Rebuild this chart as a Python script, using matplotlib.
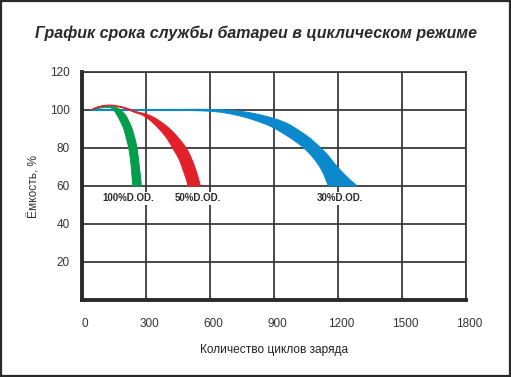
import numpy as np
import matplotlib
matplotlib.use("Agg")
import matplotlib.pyplot as plt
from matplotlib.patches import Rectangle
from matplotlib.transforms import ScaledTranslation

plt.rcParams['font.family'] = ['Liberation Sans', 'DejaVu Sans']

title = "График срока службы батареи в циклическом режиме"
xlabel = "Количество циклов заряда"
ylabel = "Ёмкость, %"
xticks = [0, 300, 600, 900, 1200, 1500, 1800]
yticks = [20, 40, 60, 80, 100, 120]

# band edges: (cycles, capacity %)
green_outer_x = [40, 80, 130, 170, 203, 222, 234, 248, 258, 266, 272, 276, 278]
green_outer_y = [100, 101.4, 102.0, 100.8, 97.4, 93.5, 90.3, 85, 80, 73, 67, 63, 60]
green_inner_x = [40, 100, 140, 164, 182, 195, 208, 219, 228, 233, 236, 238]
green_inner_y = [100, 101.2, 100.9, 97.4, 93.5, 90.3, 85, 80, 73, 67, 63, 60]

red_outer_x = [40, 80, 130, 200, 250, 312, 360, 409, 450, 488, 515, 535, 548, 555]
red_outer_y = [100, 101.8, 102.6, 101.3, 99.3, 97.4, 94.5, 90.3, 85.5, 80, 74, 68, 63, 60]
red_inner_x = [40, 80, 130, 200, 250, 281, 320, 359, 395, 425, 455, 475, 490, 497]
red_inner_y = [100, 101.6, 102.3, 100.8, 98.6, 97.4, 94.5, 90.3, 85.5, 80, 74, 68, 63, 60]

blue_outer_x = [40, 400, 600, 700, 800, 900, 960, 1020, 1070, 1110, 1150, 1190, 1240, 1290]
blue_outer_y = [100.2, 100.3, 100.3, 99.8, 98.3, 95.5, 93, 89, 85, 81, 76.5, 71, 65, 60]
blue_inner_x = [40, 400, 550, 650, 750, 850, 900, 960, 1000, 1045, 1090, 1125, 1155]
blue_inner_y = [99.7, 99.7, 99.6, 98.8, 96.6, 93, 90.5, 86.5, 83.5, 79.5, 74, 68, 60]

labels = ["100%D.OD.", "50%D.OD.", "30%D.OD."]
label_x = [218, 545, 1210]
label_y = [53.5, 53.5, 53.5]

colors = {"green": "#009E4A", "red": "#E2202A", "blue": "#0A8ACD"}

# scale factors so the curve smoothing works in roughly screen-proportional units
SX, SY = 384 / 1800, 228 / 120


def smooth(xs, ys, n=16, alpha=0.5):
    pts = np.column_stack([np.asarray(xs, float) * SX, np.asarray(ys, float) * SY])
    p = np.vstack([2 * pts[0] - pts[1], pts, 2 * pts[-1] - pts[-2]])
    out = []
    for i in range(1, len(p) - 2):
        p0, p1, p2, p3 = p[i - 1], p[i], p[i + 1], p[i + 2]
        t0 = 0.0
        t1 = t0 + max(np.linalg.norm(p1 - p0), 1e-6) ** alpha
        t2 = t1 + max(np.linalg.norm(p2 - p1), 1e-6) ** alpha
        t3 = t2 + max(np.linalg.norm(p3 - p2), 1e-6) ** alpha
        for t in np.linspace(t1, t2, n, endpoint=False):
            a1 = (t1 - t) / (t1 - t0) * p0 + (t - t0) / (t1 - t0) * p1
            a2 = (t2 - t) / (t2 - t1) * p1 + (t - t1) / (t2 - t1) * p2
            a3 = (t3 - t) / (t3 - t2) * p2 + (t - t2) / (t3 - t2) * p3
            b1 = (t2 - t) / (t2 - t0) * a1 + (t - t0) / (t2 - t0) * a2
            b2 = (t3 - t) / (t3 - t1) * a2 + (t - t1) / (t3 - t1) * a3
            out.append((t2 - t) / (t2 - t1) * b1 + (t - t1) / (t2 - t1) * b2)
    out.append(pts[-1])
    out = np.array(out)
    return out[:, 0] / SX, out[:, 1] / SY


fig = plt.figure(figsize=(5.11, 3.77), dpi=100)
fig.patches.append(Rectangle((0.001, 0.002), 0.997, 0.995, transform=fig.transFigure,
                             fill=False, edgecolor="#2a2a2a", linewidth=1.6))
ax = fig.add_axes([82 / 511, 1 - 300 / 377, (466 - 82) / 511, (300 - 72) / 377])

ax.set_xlim(0, 1800)
ax.set_ylim(0, 120)
ax.set_xticks(xticks)
ax.set_yticks(yticks)
ax.set_xticklabels([str(v) for v in xticks])
ax.set_yticklabels([str(v) for v in yticks])
ax.tick_params(length=0, labelsize=8.5, colors="#333333")
ax.tick_params(axis='y', pad=9)
ax.tick_params(axis='x', pad=13)
offset = ScaledTranslation(3 / 100, 0, fig.dpi_scale_trans)
for lab in ax.get_xticklabels():
    lab.set_transform(lab.get_transform() + offset)
ax.grid(True, color="#3a3a3a", linewidth=1.3)
ax.set_axisbelow(True)
for side in ["top", "right"]:
    ax.spines[side].set_linewidth(1.3)
    ax.spines[side].set_color("#3a3a3a")
for side in ["left", "bottom"]:
    ax.spines[side].set_linewidth(2.8)
    ax.spines[side].set_color("#2a2a2a")

bands = [
    ("blue", blue_outer_x, blue_outer_y, blue_inner_x, blue_inner_y),
    ("green", green_outer_x, green_outer_y, green_inner_x, green_inner_y),
    ("red", red_outer_x, red_outer_y, red_inner_x, red_inner_y),
]
for name, ox, oy, ix, iy in bands:
    sx1, sy1 = smooth(ox, oy)
    sx2, sy2 = smooth(ix, iy)
    px = np.concatenate([sx1, sx2[::-1]])
    py = np.concatenate([sy1, sy2[::-1]])
    ax.fill(px, py, color=colors[name], edgecolor=colors[name], linewidth=0.7, zorder=3)

for t, x, y in zip(labels, label_x, label_y):
    ax.text(x, y, t, ha="center", va="center", fontsize=7, fontweight="bold",
            color="#2a2a2a", zorder=4,
            bbox=dict(facecolor="white", edgecolor="none", pad=1.0))

ax.set_xlabel(xlabel, fontsize=8.6, color="#222222", labelpad=10)
ax.set_ylabel(ylabel, fontsize=8.6, color="#333333", labelpad=6.5)
fig.text(0.5, 1 - 33 / 377, title, ha="center", va="center", fontsize=11.5,
         fontweight="bold", fontstyle="italic", color="#2a2a2a")

fig.savefig("out.png", dpi=100)
